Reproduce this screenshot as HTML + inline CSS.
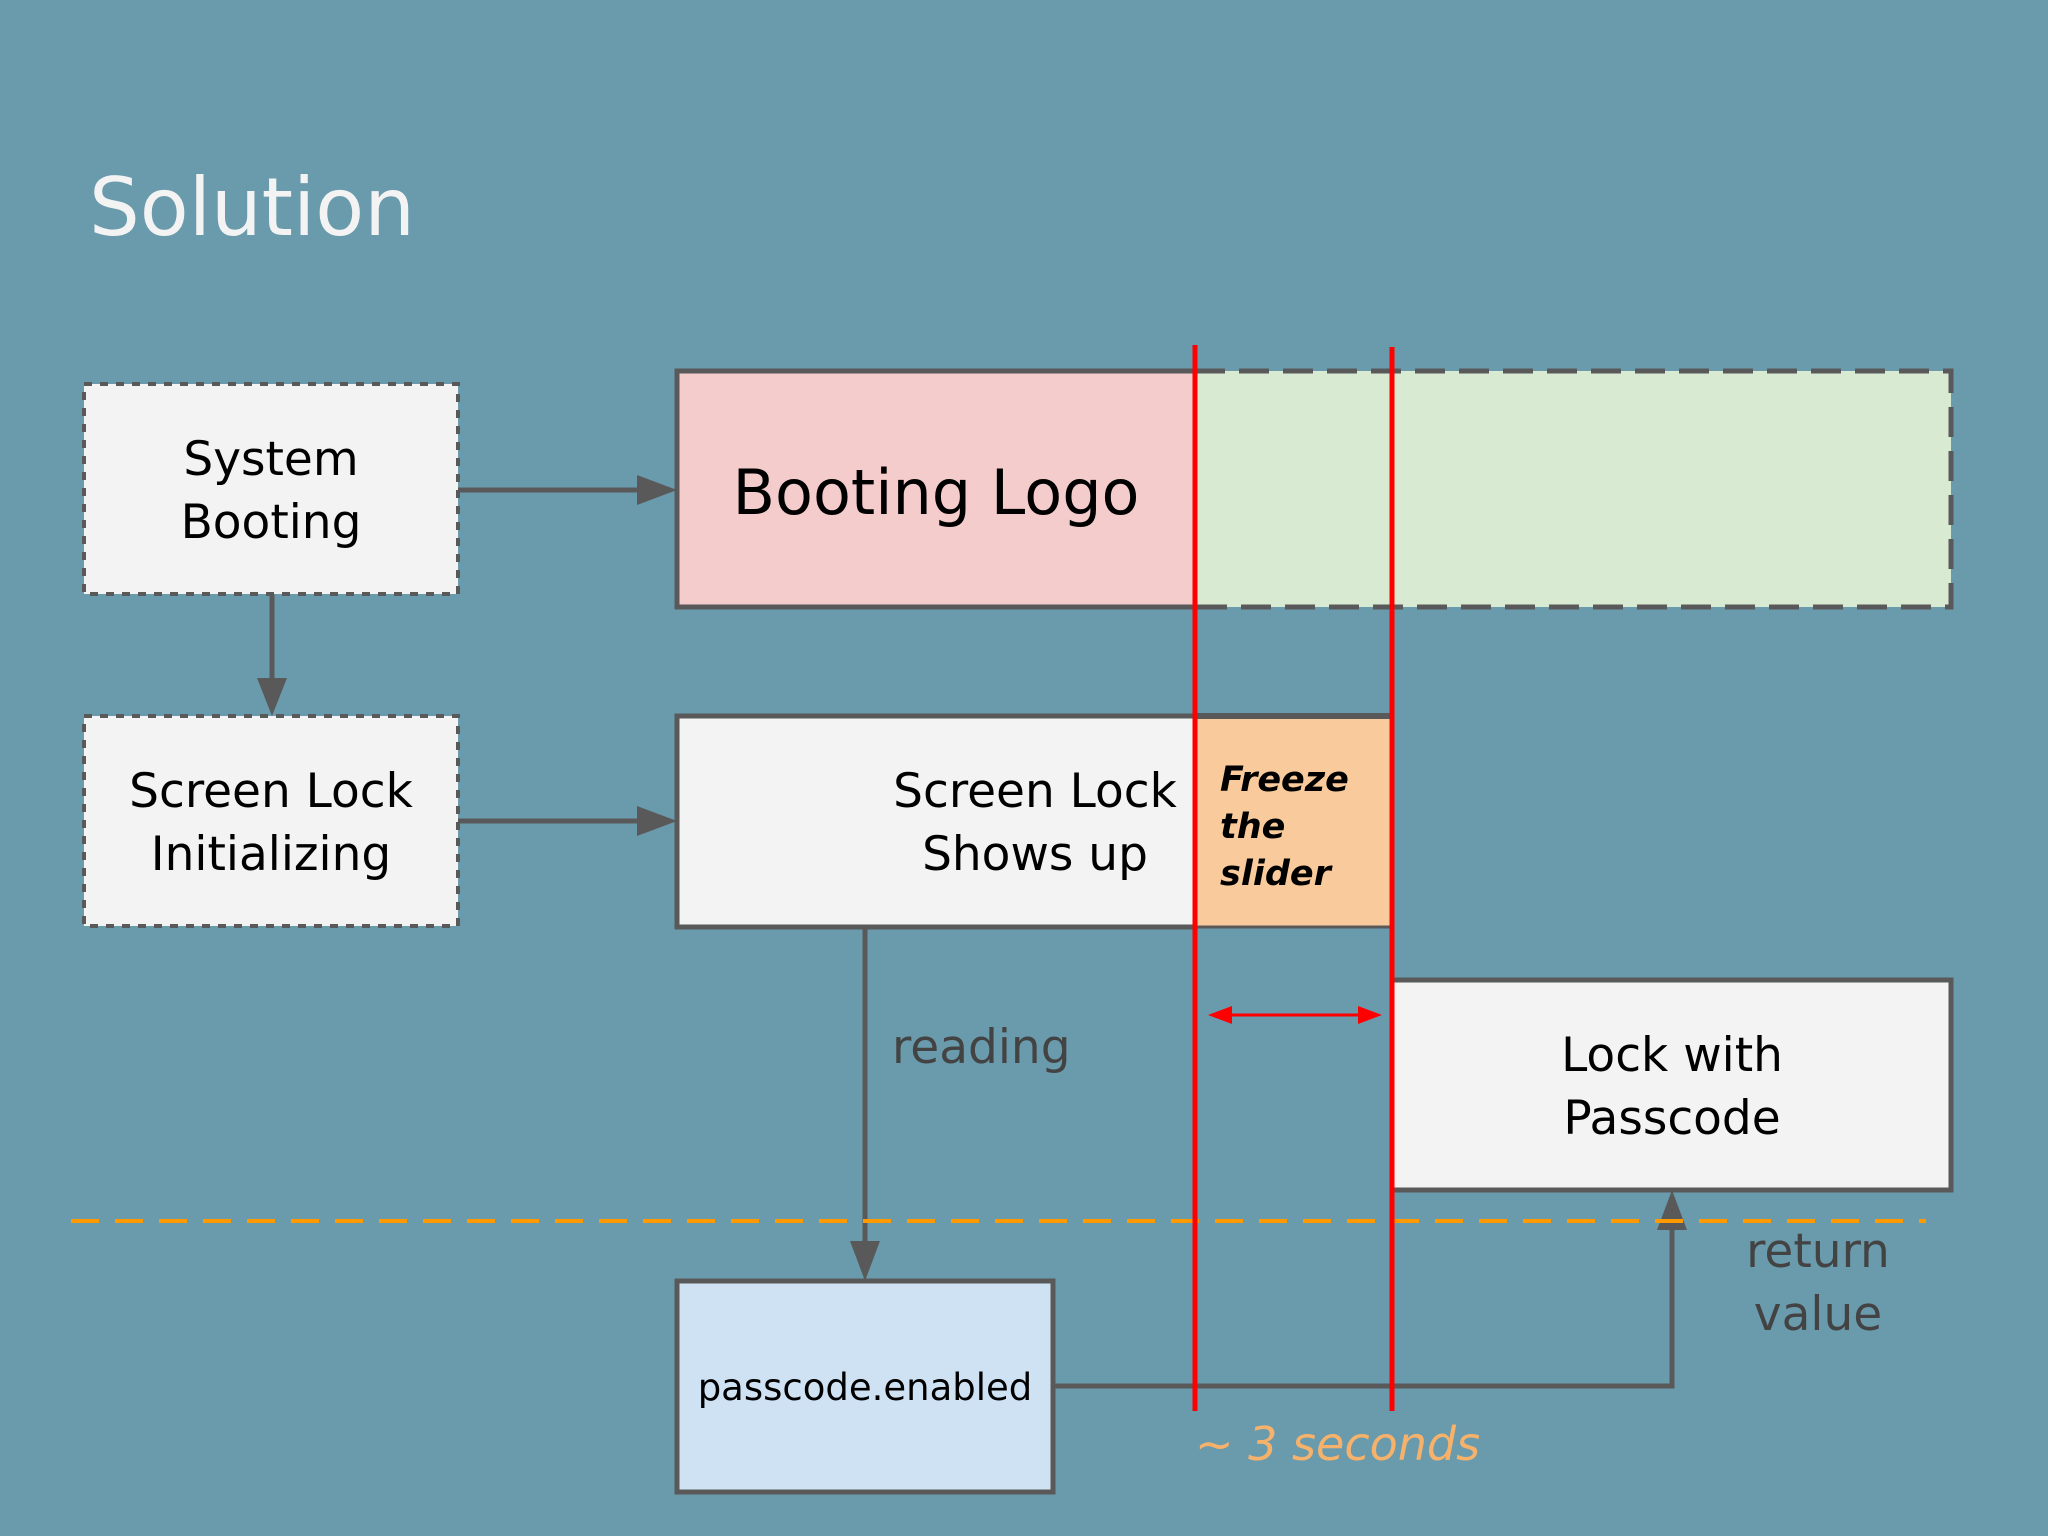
<!DOCTYPE html>
<html><head><meta charset="utf-8"><style>
html,body{margin:0;padding:0;background:#6a9bad;}
svg{display:block}
text{font-family:"DejaVu Sans","Liberation Sans",sans-serif;}
</style></head><body>
<svg width="2048" height="1536" viewBox="0 0 2048 1536" xmlns="http://www.w3.org/2000/svg">
<rect width="2048" height="1536" fill="#6a9bad"/>
<text x="89" y="235" font-size="80" fill="#f3f3f3">Solution</text>

<rect x="1195" y="371" width="756" height="236" fill="#d9ead3" stroke="#595959" stroke-width="5" stroke-dasharray="30,14"/>
<rect x="677" y="371" width="518" height="236" fill="#f4cccc" stroke="#595959" stroke-width="5"/>
<text x="936" y="514" font-size="62" fill="#000" text-anchor="middle" font-family="Liberation Sans">Booting Logo</text>

<rect x="84" y="384" width="374" height="210" fill="#f3f3f3" stroke="#595959" stroke-width="4" stroke-dasharray="8,8"/>
<text x="271" y="475" font-size="47" text-anchor="middle" fill="#000">System</text>
<text x="271" y="538" font-size="47" text-anchor="middle" fill="#000">Booting</text>

<rect x="84" y="716" width="374" height="210" fill="#f3f3f3" stroke="#595959" stroke-width="4" stroke-dasharray="8,8"/>
<text x="271" y="807" font-size="47" text-anchor="middle" fill="#000">Screen Lock</text>
<text x="271" y="870" font-size="47" text-anchor="middle" fill="#000">Initializing</text>

<g stroke="#595959" stroke-width="5" fill="none">
<line x1="458" y1="490" x2="640" y2="490"/>
<line x1="458" y1="821" x2="640" y2="821"/>
<line x1="272" y1="594" x2="272" y2="685"/>
<line x1="865" y1="927" x2="865" y2="1245"/>
<polyline points="1053,1386 1672,1386 1672,1225"/>
</g>
<g fill="#595959">
<polygon points="677,490 637,475 637,505"/>
<polygon points="677,821 637,806 637,836"/>
<polygon points="272,716 257,678 287,678"/>
<polygon points="865,1281 850,1241 880,1241"/>
<polygon points="1672,1190 1657,1230 1687,1230"/>
</g>

<rect x="677" y="716" width="518" height="211" fill="#f3f3f3" stroke="#595959" stroke-width="5"/>
<text x="1035" y="807" font-size="47" text-anchor="middle" fill="#000">Screen Lock</text>
<text x="1035" y="870" font-size="47" text-anchor="middle" fill="#000">Shows up</text>
<rect x="1195" y="716" width="197" height="211" fill="#f9cb9c" stroke="#595959" stroke-width="3"/>
<line x1="1195" y1="716" x2="1392" y2="716" stroke="#595959" stroke-width="6"/>
<g font-size="35" font-weight="bold" font-style="italic" fill="#000">
<text x="1220" y="791">Freeze</text>
<text x="1220" y="838">the</text>
<text x="1220" y="885">slider</text>
</g>

<rect x="1392" y="980" width="559" height="210" fill="#f3f3f3" stroke="#595959" stroke-width="5"/>
<text x="1672" y="1071" font-size="47" text-anchor="middle" fill="#000">Lock with</text>
<text x="1672" y="1134" font-size="47" text-anchor="middle" fill="#000">Passcode</text>

<rect x="677" y="1281" width="376" height="211" fill="#cfe2f3" stroke="#595959" stroke-width="5"/>
<text x="865" y="1400" font-size="37" text-anchor="middle" fill="#000">passcode.enabled</text>

<text x="892" y="1063" font-size="47" fill="#434343">reading</text>
<text x="1818" y="1267" font-size="47" text-anchor="middle" fill="#434343">return</text>
<text x="1818" y="1330" font-size="47" text-anchor="middle" fill="#434343">value</text>

<line x1="71" y1="1221" x2="1926" y2="1221" stroke="#ff9900" stroke-width="4" stroke-dasharray="28,16"/>

<line x1="1195" y1="345" x2="1195" y2="1411" stroke="#ff0000" stroke-width="5"/>
<line x1="1392" y1="347" x2="1392" y2="1411" stroke="#ff0000" stroke-width="5"/>
<line x1="1225" y1="1015" x2="1365" y2="1015" stroke="#ff0000" stroke-width="3"/>
<polygon points="1208,1015 1232,1006 1232,1024" fill="#ff0000"/>
<polygon points="1382,1015 1358,1006 1358,1024" fill="#ff0000"/>

<text x="1195" y="1460" font-size="46" font-style="italic" fill="#f6b26b">~ 3 seconds</text>
</svg>
</body></html>
